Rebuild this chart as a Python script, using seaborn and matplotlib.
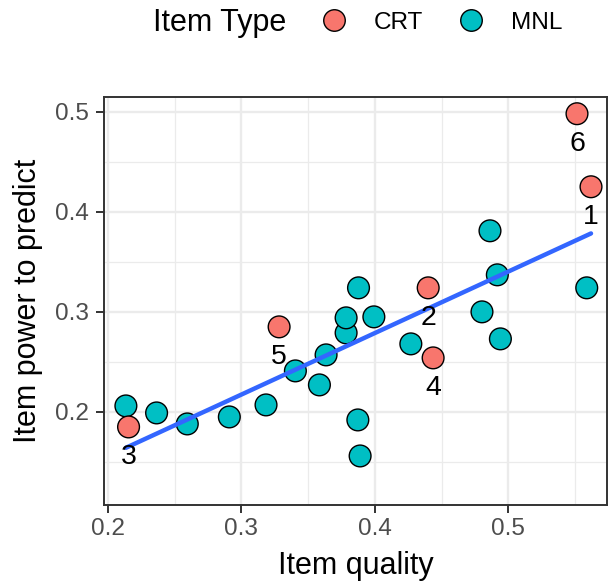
import matplotlib
matplotlib.use('Agg')
import matplotlib.pyplot as plt
from matplotlib.lines import Line2D
from matplotlib.ticker import MultipleLocator
import pandas as pd
import seaborn as sns

# MNL items (no label)
mnl_quality = [0.2135, 0.2365, 0.2595, 0.2910, 0.3185, 0.3405, 0.3585, 0.3635,
               0.3785, 0.3785, 0.3878, 0.3993, 0.3873, 0.3890, 0.4270, 0.4863,
               0.4918, 0.4803, 0.4941, 0.5588]
mnl_power = [0.206, 0.199, 0.188, 0.195, 0.207, 0.241, 0.227, 0.257,
             0.279, 0.294, 0.324, 0.295, 0.192, 0.156, 0.268, 0.381,
             0.337, 0.300, 0.273, 0.324]

# CRT items, numbered
crt_labels = ['1', '2', '3', '4', '5', '6']
crt_quality = [0.5620, 0.4400, 0.2155, 0.4437, 0.3283, 0.5515]
crt_power = [0.425, 0.324, 0.185, 0.254, 0.285, 0.498]

palette = {'CRT': '#F8766D', 'MNL': '#00BFC4'}

df = pd.DataFrame({
    'quality': mnl_quality + crt_quality,
    'power': mnl_power + crt_power,
    'item_type': ['MNL'] * len(mnl_quality) + ['CRT'] * len(crt_quality),
    'label': [''] * len(mnl_quality) + crt_labels,
})

sns.set_style('white')
plt.rcParams['font.family'] = ['Liberation Sans', 'DejaVu Sans']
plt.rcParams['text.color'] = 'black'
plt.rcParams['axes.labelcolor'] = 'black'

fig = plt.figure(figsize=(6.11, 5.84), dpi=100)
ax = fig.add_axes([0.170, 0.1353, 0.8235, 0.6991])

sns.scatterplot(data=df, x='quality', y='power', hue='item_type', palette=palette,
                s=245, edgecolor='black', linewidth=1.0, legend=False, ax=ax, zorder=3)
sns.regplot(data=df, x='quality', y='power', scatter=False, ci=None, truncate=True,
            line_kws={'color': '#3366FF', 'linewidth': 3.2, 'zorder': 4}, ax=ax)

for _, row in df[df['label'] != ''].iterrows():
    ax.annotate(row['label'], (row['quality'], row['power']), xytext=(0, -22),
                textcoords='offset points', ha='center', va='center',
                fontsize=20.5, color='black', zorder=5)

ax.set_xlim(0.197, 0.574)
ax.set_ylim(0.107, 0.515)
ax.xaxis.set_major_locator(MultipleLocator(0.1))
ax.yaxis.set_major_locator(MultipleLocator(0.1))
ax.xaxis.set_minor_locator(MultipleLocator(0.05))
ax.yaxis.set_minor_locator(MultipleLocator(0.05))
ax.grid(which='major', color='#EBEBEB', linewidth=1.7, zorder=0)
ax.grid(which='minor', color='#EBEBEB', linewidth=0.9, zorder=0)
ax.set_axisbelow(True)

for spine in ax.spines.values():
    spine.set_color('#333333')
    spine.set_linewidth(1.4)

ax.tick_params(which='major', length=5.5, width=1.4, color='#333333',
               labelsize=17.6, labelcolor='#4D4D4D', pad=4, bottom=True, left=True)
ax.tick_params(axis='y', pad=5)
ax.tick_params(which='minor', length=0)

ax.set_xlabel('Item quality', fontsize=22, labelpad=8, color='black')
ax.set_ylabel('Item power to predict', fontsize=22, labelpad=9, color='black')

# legend on top, title on the left
fig.text(153 / 611, 1 - 23 / 584, 'Item Type', fontsize=22, ha='left', va='center', color='black')
handles = [Line2D([], [], marker='o', linestyle='', markersize=15.5, markerfacecolor=palette[k],
                  markeredgecolor='black', markeredgewidth=1.0) for k in ['CRT', 'MNL']]
fig.legend(handles, ['CRT', 'MNL'], loc='center left', bbox_to_anchor=(322 / 611, 1 - 23 / 584),
           ncol=2, frameon=False, fontsize=17.6, handlelength=1.0, handletextpad=1.1,
           columnspacing=1.5, borderpad=0, borderaxespad=0, labelcolor='black')

fig.savefig('out.png', dpi=100)
